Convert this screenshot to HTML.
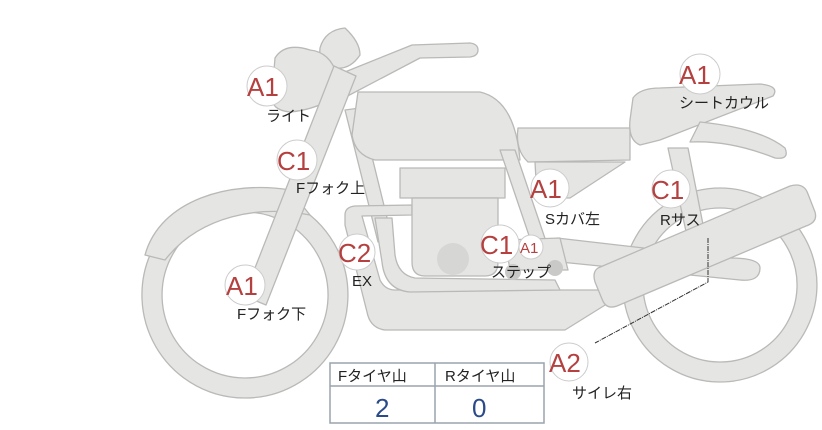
<!DOCTYPE html>
<html><head><meta charset="utf-8"><style>
body{margin:0;background:#fff;width:822px;height:425px;overflow:hidden}
text{font-family:"Liberation Sans","Noto Sans CJK JP",sans-serif}
.b{font-size:26px;fill:#b54040}
.l{font-size:15px;fill:#222}
</style></head><body>
<svg width="822" height="425" viewBox="0 0 822 425">
<g fill="#e5e5e3" stroke="#b9b9b7" stroke-width="1.3" stroke-linejoin="round">
<path fill-rule="evenodd" d="M245,192 a103,103 0 1,1 -0.1,0 Z M245,212 a83,83 0 1,0 0.1,0 Z"/>
<path d="M145,255 C160,200 230,180 290,190 L310,215 C260,205 200,215 165,260 Z"/>
<path fill-rule="evenodd" d="M720,188 a97,97 0 1,1 -0.1,0 Z M720,208 a77,77 0 1,0 0.1,0 Z"/>
<path d="M330,78 L412,45 L470,43 Q478,44 478,50 Q478,56 470,57 L420,58 L340,100 Z"/>
<path d="M320,48 Q325,30 345,28 Q360,42 360,55 Q350,70 335,68 Q318,62 320,48 Z"/>
<path d="M275,58 Q285,42 310,50 Q330,52 337,75 Q340,95 330,100 Q312,110 290,112 Q270,110 272,95 Z"/>
<path d="M334,66 L356,76 L266,305 L244,296 Z"/>
<path d="M345,110 L360,108 L392,238 L378,242 Z"/>
<path d="M358,92 L480,92 Q515,100 520,160 L375,160 Q355,155 352,135 Z"/>
<path d="M500,150 L515,150 L553,262 L538,262 Z"/>
<path d="M518,128 L630,128 L630,160 L528,162 Q515,150 518,128 Z"/>
<path d="M535,162 L625,162 L570,198 L537,198 Z"/>
<path d="M668,148 L688,148 L708,250 L690,250 Z"/>
<path d="M633,98 Q640,88 660,88 L760,84 Q780,86 773,96 L660,140 L640,145 Q628,140 630,120 Z"/>
<path d="M700,122 Q760,128 785,148 Q790,160 775,158 Q730,140 690,142 Z"/>
<path d="M557,238 L730,258 Q760,258 760,268 Q760,282 740,280 L560,262 Z"/>
<path d="M345,215 Q345,207 355,206 L412,205 L412,215 L362,216 L380,280 Q385,290 395,290 L600,290 L610,302 L565,330 L385,330 Q370,328 367,312 L345,225 Z"/>
<path d="M392,218 L395,255 Q398,275 415,278 L555,280 L560,290 L410,292 Q385,290 382,262 L375,218 Z"/>
<rect x="400" y="168" width="105" height="30"/>
<path d="M412,198 L498,198 L498,262 Q498,276 485,276 L425,276 Q412,276 412,262 Z"/>
<path d="M505,240 L560,238 L568,270 L510,270 Z"/>
<path d="M598,268 L790,186 Q804,182 808,194 L815,212 Q818,222 806,226 L617,306 Q606,310 602,299 L595,282 Q592,272 598,268 Z"/>
</g>
<circle cx="453" cy="259" r="16" fill="#d6d6d4"/>
<circle cx="513" cy="272" r="8" fill="#c9c9c7"/>
<circle cx="555" cy="268" r="8" fill="#c9c9c7"/>
<path d="M708,238 L708,282 L595,343" fill="none" stroke="#333" stroke-width="1" stroke-dasharray="5,1,1,1"/>
<g fill="#fff" stroke="#ccc" stroke-width="1">
<circle cx="267" cy="86" r="20"/><circle cx="297" cy="160" r="20"/>
<circle cx="357" cy="252" r="18"/><circle cx="245" cy="285" r="20"/>
<circle cx="700" cy="74" r="20"/><circle cx="550" cy="188" r="19"/>
<circle cx="671" cy="189" r="19"/><circle cx="500" cy="244" r="19"/>
<circle cx="531" cy="247" r="12"/><circle cx="569" cy="362" r="19"/>
</g>
<text class="b" x="247" y="96">A1</text>
<text class="b" x="277" y="170">C1</text>
<text class="b" x="338" y="262">C2</text>
<text class="b" x="226" y="295">A1</text>
<text class="b" x="679" y="84">A1</text>
<text class="b" x="530" y="198">A1</text>
<text class="b" x="651" y="199">C1</text>
<text class="b" x="480" y="254">C1</text>
<text x="520" y="253" style="font-size:15px;fill:#b54040">A1</text>
<text class="b" x="549" y="372">A2</text>
<text class="l" x="266" y="121">ライト</text>
<text class="l" x="296" y="193">Fフォク上</text>
<text class="l" x="352" y="286">EX</text>
<text class="l" x="237" y="319">Fフォク下</text>
<text class="l" x="679" y="108">シートカウル</text>
<text class="l" x="545" y="224">Sカバ左</text>
<text class="l" x="660" y="225">Rサス</text>
<text class="l" x="491" y="277">ステップ</text>
<text class="l" x="572" y="398">サイレ右</text>
<g fill="none" stroke="#9aa3ad" stroke-width="1.5">
<rect x="330" y="363" width="214" height="60"/>
<line x1="330" y1="386" x2="544" y2="386"/>
<line x1="435" y1="363" x2="435" y2="423"/>
</g>
<text class="l" x="338" y="381">Fタイヤ山</text>
<text class="l" x="445" y="381">Rタイヤ山</text>
<text x="375" y="417" style="font-size:26px;fill:#2a4a8a">2</text>
<text x="472" y="417" style="font-size:26px;fill:#2a4a8a">0</text>
</svg>
</body></html>
